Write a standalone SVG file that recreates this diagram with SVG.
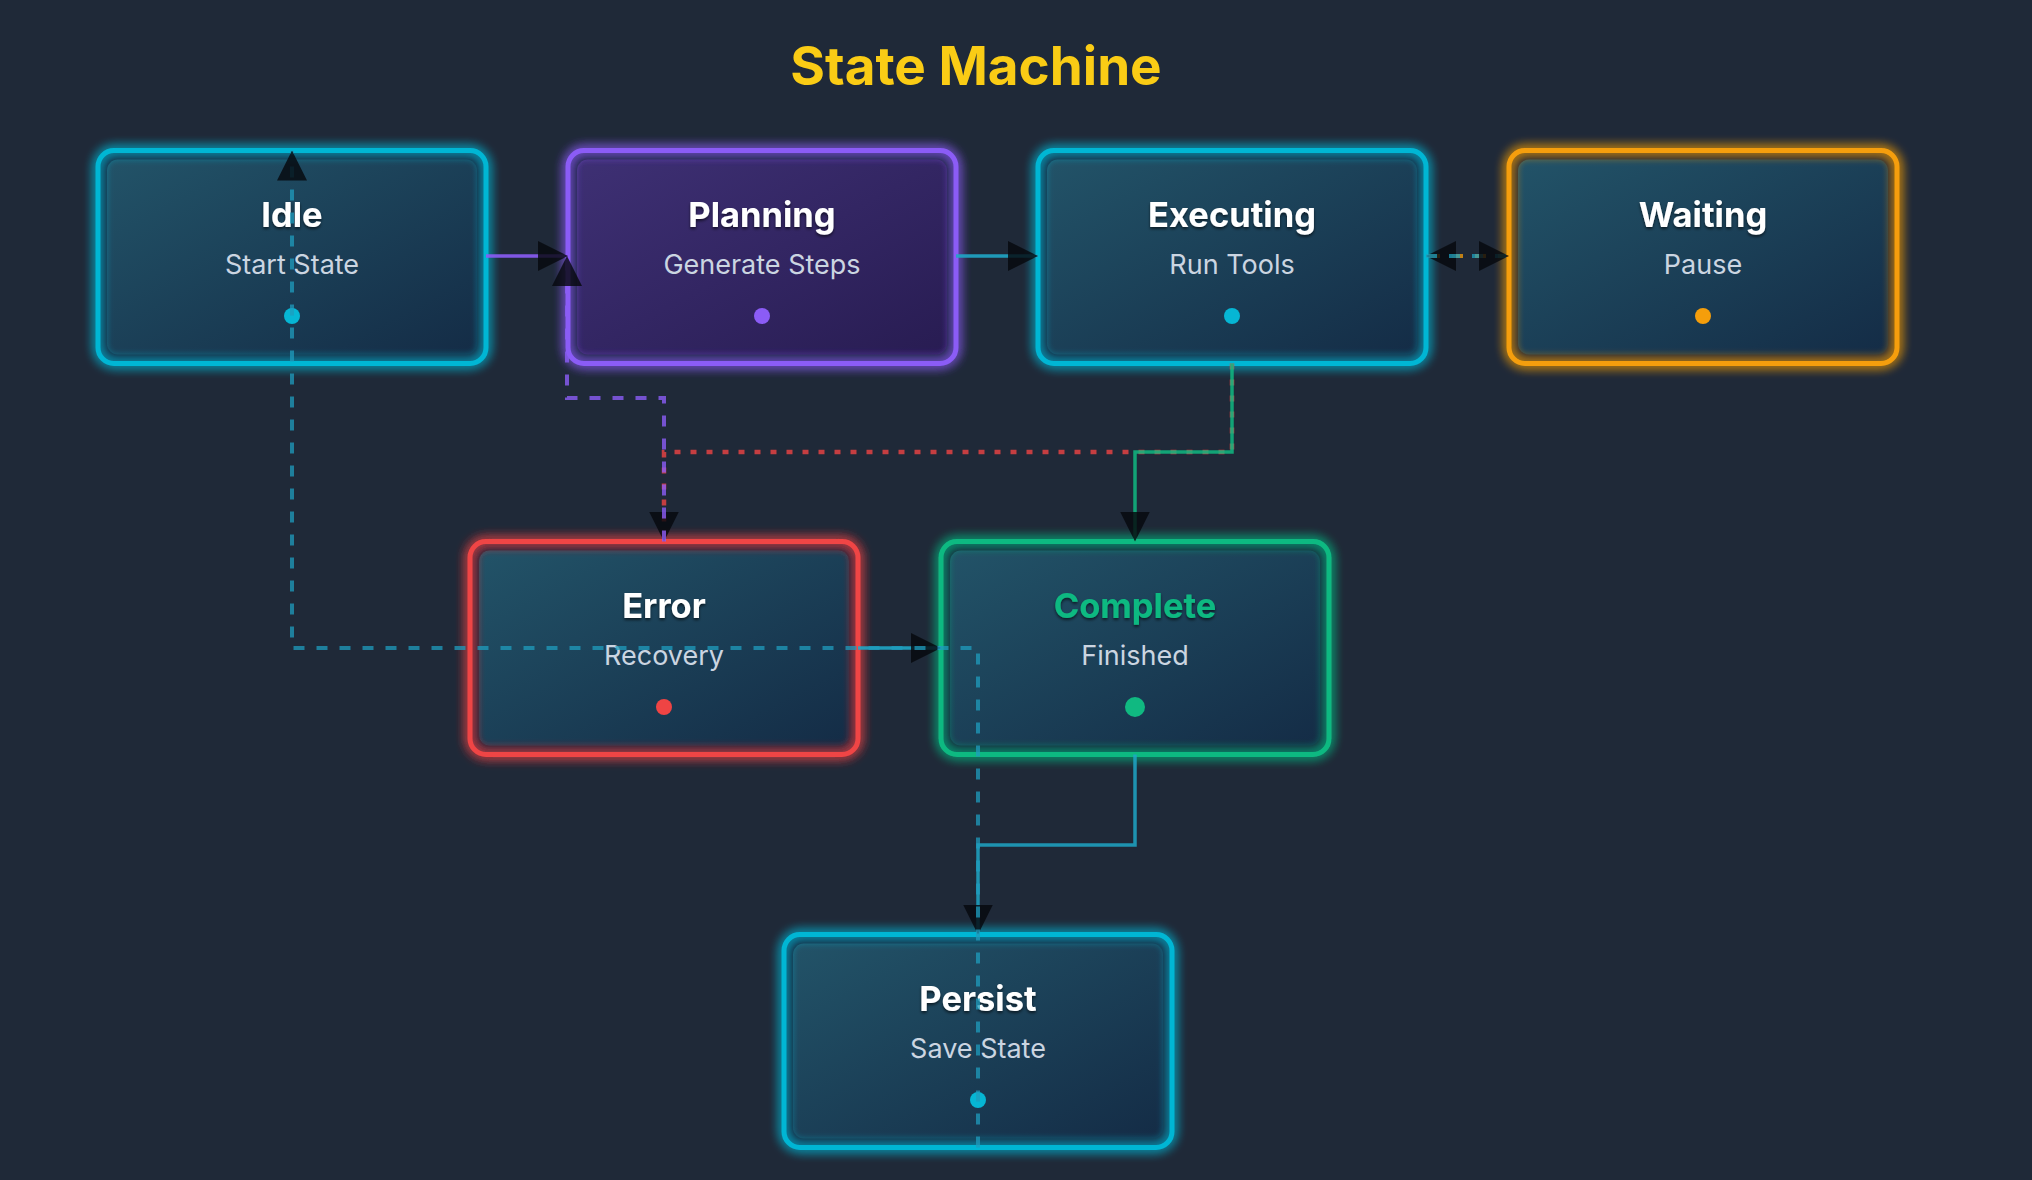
<svg xmlns="http://www.w3.org/2000/svg" width="2032" height="1180" viewBox="0 0 2032 1180">
  <defs>
    <style>
      .bg { fill: #1f2938; }
      .title { font-family: Inter, "Noto Sans", "Liberation Sans", sans-serif; font-weight: 700; font-size: 53px; fill: #facc15; text-anchor: middle; }
      .ring { fill: #19233a; }
      .border { fill: none; stroke-width: 5; filter: url(#glow); }
      .ntitle { font-family: Inter, "Noto Sans", "Liberation Sans", sans-serif; font-weight: 700; font-size: 34.5px; fill: #ffffff; text-anchor: middle; filter: url(#tshadow); }
      .nsub { font-family: Inter, "Noto Sans", "Liberation Sans", sans-serif; font-weight: 400; font-size: 27px; fill: #cbd5e1; text-anchor: middle; }
      .conn { fill: none; stroke-width: 3.5; marker-end: url(#arrow); }
      .dash { stroke-dasharray: 11 12; stroke-width: 4; }
      .dot { stroke-dasharray: 6 10; stroke-width: 4.5; }
    </style>
    <linearGradient id="gBlue" x1="0" y1="0" x2="1" y2="1">
      <stop offset="0" stop-color="#225368"/>
      <stop offset="1" stop-color="#142c46"/>
    </linearGradient>
    <linearGradient id="gPurple" x1="0" y1="0" x2="1" y2="1">
      <stop offset="0" stop-color="#3e3074"/>
      <stop offset="1" stop-color="#281c52"/>
    </linearGradient>
    <filter id="glow" x="-10%" y="-15%" width="120%" height="130%">
      <feGaussianBlur in="SourceGraphic" stdDeviation="6" result="b"/>
      <feMerge><feMergeNode in="b"/><feMergeNode in="b"/><feMergeNode in="SourceGraphic"/></feMerge>
    </filter>
    <filter id="tshadow" x="-10%" y="-30%" width="120%" height="160%">
      <feDropShadow dx="0" dy="2" stdDeviation="1.5" flood-color="#000" flood-opacity="0.6"/>
    </filter>
    <marker id="arrow" markerUnits="userSpaceOnUse" viewBox="0 0 30 30" markerWidth="30" markerHeight="30" refX="30" refY="15" orient="auto">
      <path d="M0,0 L30,15 L0,30 Z" fill="#06090e" fill-opacity="0.82"/>
    </marker>
  </defs>

  <rect class="bg" x="0" y="0" width="2032" height="1180"/>
  <text class="title" x="976" y="85">State Machine</text>

  <g id="node-idle">
    <rect class="ring" x="98" y="150.5" width="388" height="213" rx="16"/>
    <rect x="107" y="159.5" width="370" height="195" rx="11" fill="url(#gBlue)"/>
    <rect class="border" x="98" y="150.5" width="388" height="213" rx="16" stroke="#06b6d4"/>
    <text class="ntitle" x="292" y="227">Idle</text>
    <text class="nsub" x="292" y="274">Start State</text>
    <circle cx="292" cy="316" r="8" fill="#06b6d4"/>
  </g>

  <g id="node-planning">
    <rect class="ring" x="568" y="150.5" width="388" height="213" rx="16"/>
    <rect x="577" y="159.5" width="370" height="195" rx="11" fill="url(#gPurple)"/>
    <rect class="border" x="568" y="150.5" width="388" height="213" rx="16" stroke="#8b5cf6"/>
    <text class="ntitle" x="762" y="227">Planning</text>
    <text class="nsub" x="762" y="274">Generate Steps</text>
    <circle cx="762" cy="316" r="8" fill="#8b5cf6"/>
  </g>

  <g id="node-executing">
    <rect class="ring" x="1038" y="150.5" width="388" height="213" rx="16"/>
    <rect x="1047" y="159.5" width="370" height="195" rx="11" fill="url(#gBlue)"/>
    <rect class="border" x="1038" y="150.5" width="388" height="213" rx="16" stroke="#06b6d4"/>
    <text class="ntitle" x="1232" y="227">Executing</text>
    <text class="nsub" x="1232" y="274">Run Tools</text>
    <circle cx="1232" cy="316" r="8" fill="#06b6d4"/>
  </g>

  <g id="node-waiting">
    <rect class="ring" x="1509" y="150.5" width="388" height="213" rx="16"/>
    <rect x="1518" y="159.5" width="370" height="195" rx="11" fill="url(#gBlue)"/>
    <rect class="border" x="1509" y="150.5" width="388" height="213" rx="16" stroke="#f59e0b"/>
    <text class="ntitle" x="1703" y="227">Waiting</text>
    <text class="nsub" x="1703" y="274">Pause</text>
    <circle cx="1703" cy="316" r="8" fill="#f59e0b"/>
  </g>

  <g id="node-error">
    <rect class="ring" x="470" y="541.5" width="388" height="213" rx="16"/>
    <rect x="479" y="550.5" width="370" height="195" rx="11" fill="url(#gBlue)"/>
    <rect class="border" x="470" y="541.5" width="388" height="213" rx="16" stroke="#ef4444"/>
    <text class="ntitle" x="664" y="618">Error</text>
    <text class="nsub" x="664" y="665">Recovery</text>
    <circle cx="664" cy="707" r="8" fill="#ef4444"/>
  </g>

  <g id="node-complete">
    <rect class="ring" x="941" y="541.5" width="388" height="213" rx="16"/>
    <rect x="950" y="550.5" width="370" height="195" rx="11" fill="url(#gBlue)"/>
    <rect class="border" x="941" y="541.5" width="388" height="213" rx="16" stroke="#10b981"/>
    <text class="ntitle" x="1135" y="618" style="fill:#10b981">Complete</text>
    <text class="nsub" x="1135" y="665">Finished</text>
    <circle cx="1135" cy="707" r="10" fill="#10b981"/>
  </g>

  <g id="node-persist">
    <rect class="ring" x="784" y="934.5" width="388" height="213" rx="16"/>
    <rect x="793" y="943.5" width="370" height="195" rx="11" fill="url(#gBlue)"/>
    <rect class="border" x="784" y="934.5" width="388" height="213" rx="16" stroke="#06b6d4"/>
    <text class="ntitle" x="978" y="1011">Persist</text>
    <text class="nsub" x="978" y="1058">Save State</text>
    <circle cx="978" cy="1100" r="8" fill="#06b6d4"/>
  </g>

  <g id="connectors" stroke-linejoin="miter">
    <path class="conn" d="M486,256 L568,256" stroke="#8b5cf6" stroke-opacity="0.9"/>
    <path class="conn" d="M956,256 L1038,256" stroke="#1fa6c6" stroke-opacity="0.9"/>
    <path class="conn dash" d="M1509,256 L1426,256" stroke="#f59e0b" stroke-opacity="0.75"/>
    <path class="conn dash" d="M1426,256 L1509,256" stroke="#1fa0bf" stroke-opacity="0.75"/>
    <path class="conn dot" d="M1232,363.5 L1232,452 L664,452 L664,541.5" stroke="#ef4444" stroke-opacity="0.8"/>
    <path class="conn" d="M1232,363.5 L1232,452 L1135,452 L1135,541.5" stroke="#10b981" stroke-opacity="0.85"/>
    <path class="conn dash" d="M664,541.5 L664,398 L567,398 L567,256" stroke="#8b5cf6" stroke-opacity="0.8"/>
    <path class="conn" d="M858,648 L941,648" stroke="#1fa6c6" stroke-opacity="0.9"/>
    <path class="conn" d="M1135,754.5 L1135,845 L978,845 L978,934.5" stroke="#1fa6c6" stroke-opacity="0.85"/>
    <path class="conn dash" d="M978,1147.5 L978,648 L292,648 L292,150.5" stroke="#1f9cbd" stroke-opacity="0.75"/>
  </g>
</svg>
